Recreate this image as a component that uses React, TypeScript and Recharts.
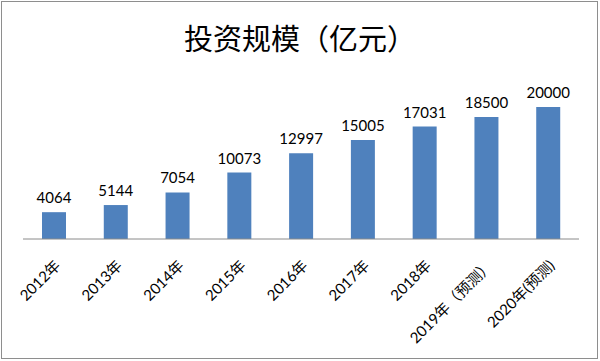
import React from 'react'
import { BarChart, Bar, XAxis, YAxis, LabelList } from 'recharts'

const categories = [
  '2012年',
  '2013年',
  '2014年',
  '2015年',
  '2016年',
  '2017年',
  '2018年',
  '2019年（预测）',
  '2020年(预测)',
]
const investment = [4064, 5144, 7054, 10073, 12997, 15005, 17031, 18500, 20000]

const chartData = categories.map((name, i) => ({ name, value: investment[i] }))

const App: React.FC = () => {
  return (
    <div style={{ position: 'absolute', left: 0, top: 0, width: 600, height: 361, background: '#fff' }}>
      <div
        style={{
          position: 'absolute',
          left: 1,
          top: 1,
          width: 595,
          height: 356,
          border: '1px solid #8e8e8e',
        }}
      />
      <div
        style={{
          position: 'absolute',
          left: 0,
          top: 18,
          width: 600,
          textAlign: 'center',
          fontFamily: '"Noto Sans CJK SC", sans-serif',
          fontSize: 29,
          lineHeight: '38px',
          color: '#000',
        }}
      >
        投资规模（亿元）
      </div>
      <BarChart
        width={600}
        height={361}
        data={chartData}
        margin={{ top: 107, right: 21, left: 23, bottom: 0 }}
        style={{ position: 'absolute', left: 0, top: 0 }}
      >
        <XAxis
          dataKey="name"
          axisLine={{ stroke: '#8a8a8a', strokeWidth: 1 }}
          tickLine={false}
          interval={0}
          height={122}
          tickMargin={12}
          tick={{
            angle: -45,
            textAnchor: 'end',
            fill: '#000',
            fontSize: 15,
            fontFamily: 'Lato, "Noto Sans CJK SC", sans-serif',
            dy: 2,
          }}
        />
        <YAxis hide domain={[0, 20000]} />
        <Bar dataKey="value" fill="#4F81BD" barSize={24} isAnimationActive={false}>
          <LabelList
            dataKey="value"
            position="top"
            offset={9}
            fill="#000"
            fontSize={15}
            fontFamily="Lato, sans-serif"
          />
        </Bar>
      </BarChart>
    </div>
  )
}

export default App
